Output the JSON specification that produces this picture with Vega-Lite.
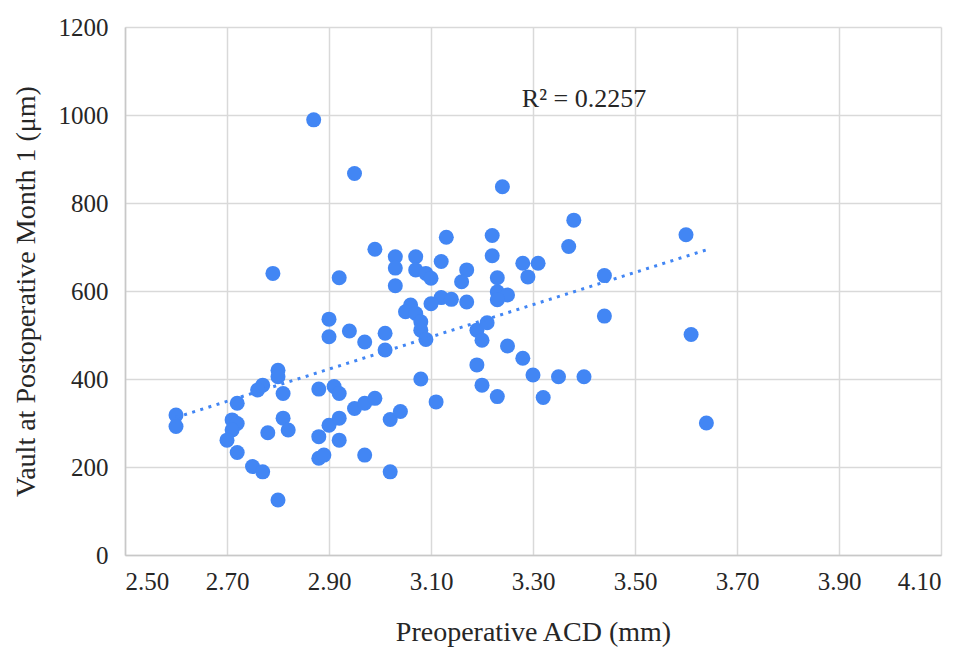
{
  "$schema": "https://vega.github.io/schema/vega-lite/v6.json",
  "width": 816,
  "height": 528,
  "autosize": {"type": "none"},
  "padding": {"left": 125, "top": 27, "right": 25, "bottom": 96},
  "background": "white",
  "config": {
    "view": {"stroke": null},
    "axis": {
      "grid": true,
      "gridColor": "#d9d9d9",
      "gridWidth": 1.5,
      "domainColor": "#c8c8c8",
      "domainWidth": 1.5,
      "ticks": false,
      "labelFont": "Liberation Serif",
      "labelFontSize": 25,
      "labelColor": "#262626",
      "titleFont": "Liberation Serif",
      "titleFontSize": 28,
      "titleFontWeight": "normal",
      "titleColor": "#262626"
    }
  },
  "datasets": {
    "pts": [
      {"acd": 2.60, "vault": 318}, {"acd": 2.60, "vault": 292}, {"acd": 2.72, "vault": 345}, {"acd": 2.71, "vault": 307},
      {"acd": 2.72, "vault": 299}, {"acd": 2.71, "vault": 284}, {"acd": 2.70, "vault": 261}, {"acd": 2.72, "vault": 233},
      {"acd": 2.75, "vault": 201}, {"acd": 2.77, "vault": 189}, {"acd": 2.80, "vault": 125}, {"acd": 2.80, "vault": 420},
      {"acd": 2.80, "vault": 405}, {"acd": 2.77, "vault": 386}, {"acd": 2.76, "vault": 375}, {"acd": 2.81, "vault": 367},
      {"acd": 2.78, "vault": 278}, {"acd": 2.81, "vault": 311}, {"acd": 2.82, "vault": 284}, {"acd": 2.88, "vault": 377},
      {"acd": 2.91, "vault": 383}, {"acd": 2.92, "vault": 367}, {"acd": 2.88, "vault": 269}, {"acd": 2.88, "vault": 220},
      {"acd": 2.89, "vault": 227}, {"acd": 2.92, "vault": 261}, {"acd": 2.97, "vault": 227}, {"acd": 3.02, "vault": 189},
      {"acd": 2.90, "vault": 295}, {"acd": 2.92, "vault": 311}, {"acd": 2.95, "vault": 333}, {"acd": 2.97, "vault": 345},
      {"acd": 2.99, "vault": 356}, {"acd": 3.02, "vault": 308}, {"acd": 3.04, "vault": 326}, {"acd": 3.01, "vault": 466},
      {"acd": 2.97, "vault": 484}, {"acd": 2.90, "vault": 496}, {"acd": 3.08, "vault": 400}, {"acd": 2.87, "vault": 989},
      {"acd": 2.95, "vault": 867}, {"acd": 3.24, "vault": 837}, {"acd": 2.79, "vault": 640}, {"acd": 2.92, "vault": 630},
      {"acd": 2.99, "vault": 695}, {"acd": 3.03, "vault": 678}, {"acd": 3.03, "vault": 652}, {"acd": 3.03, "vault": 612},
      {"acd": 3.07, "vault": 678}, {"acd": 3.07, "vault": 648}, {"acd": 3.09, "vault": 640}, {"acd": 3.10, "vault": 629},
      {"acd": 3.12, "vault": 667}, {"acd": 3.13, "vault": 722}, {"acd": 3.22, "vault": 726}, {"acd": 3.22, "vault": 680},
      {"acd": 3.23, "vault": 630}, {"acd": 3.23, "vault": 598}, {"acd": 3.25, "vault": 591}, {"acd": 3.23, "vault": 580},
      {"acd": 3.17, "vault": 648}, {"acd": 3.16, "vault": 621}, {"acd": 3.28, "vault": 663}, {"acd": 3.31, "vault": 663},
      {"acd": 3.29, "vault": 632}, {"acd": 3.12, "vault": 585}, {"acd": 3.10, "vault": 571}, {"acd": 3.14, "vault": 581},
      {"acd": 3.17, "vault": 575}, {"acd": 3.06, "vault": 568}, {"acd": 3.05, "vault": 553}, {"acd": 3.07, "vault": 549},
      {"acd": 3.08, "vault": 530}, {"acd": 3.08, "vault": 511}, {"acd": 3.09, "vault": 490}, {"acd": 2.90, "vault": 536},
      {"acd": 2.94, "vault": 509}, {"acd": 3.01, "vault": 504}, {"acd": 3.19, "vault": 511}, {"acd": 3.21, "vault": 528},
      {"acd": 3.20, "vault": 488}, {"acd": 3.25, "vault": 475}, {"acd": 3.38, "vault": 761}, {"acd": 3.37, "vault": 701},
      {"acd": 3.60, "vault": 728}, {"acd": 3.44, "vault": 635}, {"acd": 3.44, "vault": 543}, {"acd": 3.61, "vault": 501},
      {"acd": 3.64, "vault": 300}, {"acd": 3.28, "vault": 447}, {"acd": 3.30, "vault": 409}, {"acd": 3.35, "vault": 405},
      {"acd": 3.40, "vault": 405}, {"acd": 3.32, "vault": 358}, {"acd": 3.23, "vault": 360}, {"acd": 3.19, "vault": 432},
      {"acd": 3.20, "vault": 386}, {"acd": 3.11, "vault": 348}
    ]
  },
  "encoding": {
    "x": {
      "field": "acd",
      "type": "quantitative",
      "scale": {"domain": [2.5, 4.1], "nice": false, "zero": false},
      "axis": {
        "values": [2.5, 2.7, 2.9, 3.1, 3.3, 3.5, 3.7, 3.9, 4.1],
        "format": ".2f",
        "labelPadding": 14,
        "titlePadding": 24,
        "title": "Preoperative ACD (mm)"
      }
    },
    "y": {
      "field": "vault",
      "type": "quantitative",
      "scale": {"domain": [0, 1200], "nice": false},
      "axis": {
        "values": [0, 200, 400, 600, 800, 1000, 1200],
        "format": "d",
        "labelPadding": 17,
        "titlePadding": 18,
        "title": "Vault at Postoperative Month 1 (μm)"
      }
    }
  },
  "layer": [
    {
      "data": {"name": "pts"},
      "mark": {"type": "circle", "size": 225, "color": "#4286f4", "opacity": 1}
    },
    {
      "data": {"name": "pts"},
      "transform": [{"regression": "vault", "on": "acd"}],
      "mark": {"type": "line", "color": "#4286f4", "strokeWidth": 3, "strokeDash": [3, 5.5]}
    },
    {
      "data": {"values": [{"acd": 3.40, "vault": 1037, "label": "R² = 0.2257"}]},
      "mark": {"type": "text", "font": "Liberation Serif", "fontSize": 26, "color": "#262626", "align": "center", "baseline": "middle"},
      "encoding": {"text": {"field": "label", "type": "nominal"}}
    }
  ]
}
